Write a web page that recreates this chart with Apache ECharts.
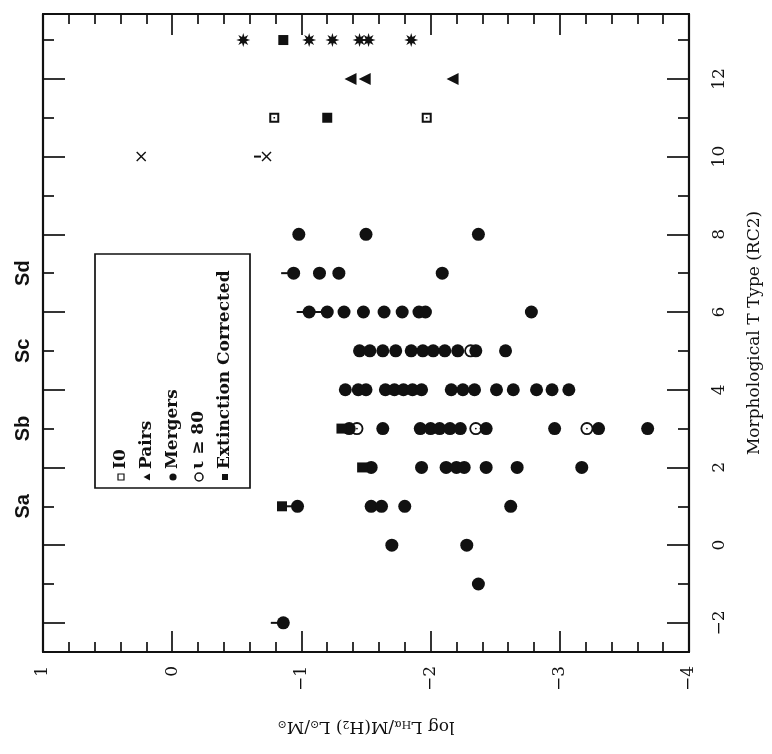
<!DOCTYPE html>
<html>
<head>
<meta charset="utf-8">
<script src="https://cdn.jsdelivr.net/npm/echarts@6/dist/echarts.min.js"></script>
<style>
  html, body { margin: 0; padding: 0; background: #fff; }
  #chart { width: 772px; height: 754px; }
</style>
</head>
<body>
<div id="chart"></div>
<script>
// H-alpha / H2 vs morphological type, drawn rotated like the scanned page.
var logTicks = [1, 0, -1, -2, -3, -4];
var typeTicks = [-2, 0, 2, 4, 6, 8, 10, 12];
var typeMinor = [-1, 1, 3, 5, 7, 9, 11, 13];
var morphTicks = [1, 3, 5, 7];
var morphNames = ["Sa", "Sb", "Sc", "Sd"];
var legendNames = ["I0", "Pairs", "Mergers", "\u03b9 \u2265 80", "Extinction Corrected"];

// filled circles, one list of log values per T row
var galaxyT = [8, 7, 6, 5, 4, 3, 2, 1, 0, -1, -2];
var galaxyLog = [
  [-0.98, -1.50, -2.37],
  [-0.94, -1.14, -1.29, -2.09],
  [-1.06, -1.20, -1.33, -1.48, -1.64, -1.78, -1.91, -1.96, -2.78],
  [-1.45, -1.53, -1.63, -1.73, -1.85, -1.94, -2.02, -2.11, -2.21, -2.35, -2.58],
  [-1.34, -1.44, -1.50, -1.65, -1.72, -1.79, -1.86, -1.93, -2.16, -2.25, -2.34, -2.51, -2.64, -2.82, -2.94, -3.07],
  [-1.37, -1.63, -1.92, -2.00, -2.07, -2.15, -2.23, -2.43, -2.96, -3.30, -3.68],
  [-1.54, -1.93, -2.12, -2.20, -2.26, -2.43, -2.67, -3.17],
  [-0.97, -1.54, -1.62, -1.80, -2.62],
  [-1.70, -2.28],
  [-2.37],
  [-0.86]
];
var inclPts = [[-1.43, 3], [-2.35, 3], [-3.21, 3], [-2.31, 5]];
var extPts = [[-0.86, 13], [-1.20, 11], [-1.31, 3], [-1.47, 2], [-0.85, 1]];
var ioPts = [[-0.79, 11], [-1.97, 11]];
var pairPts = [[-1.38, 12], [-1.49, 12], [-2.17, 12]];
var mergerPts = [[-0.55, 13], [-1.06, 13], [-1.24, 13], [-1.45, 13], [-1.52, 13], [-1.85, 13]];
var crossPts = [[0.24, 10], [-0.73, 10]];
var limitPts = [[-0.86, -2], [-0.97, 1], [-1.06, 6], [-1.20, 6], [-0.94, 7], [-0.73, 10]];

var galaxyPts = [];
galaxyT.forEach(function (t, i) {
  galaxyLog[i].forEach(function (v) { galaxyPts.push([v, t]); });
});

function starPath() {
  var p = "";
  for (var i = 0; i < 16; i++) {
    var r = i % 2 ? 4.6 : 10, a = i * Math.PI / 8;
    p += (i ? "L" : "M") + (10 + r * Math.sin(a)).toFixed(2) + " " + (10 - r * Math.cos(a)).toFixed(2) + " ";
  }
  return "path://" + p + "Z";
}
var SYM_STAR = starPath();
var SYM_OSQ = "path://M0 0H10V10H0Z M2 2V8H8V2Z M4.2 4.2H5.8V5.8H4.2Z";
var SYM_OCIRC = "path://M0 5A5 5 0 1 1 10 5A5 5 0 1 1 0 5Z M1.4 5A3.6 3.6 0 1 0 8.6 5A3.6 3.6 0 1 0 1.4 5Z M4.3 5A0.7 0.7 0 1 1 5.7 5A0.7 0.7 0 1 1 4.3 5Z";
var SYM_TRI = "path://M0 5L10 0L10 10Z";
var SYM_X = "path://M0 1L1 0L5 4L9 0L10 1L6 5L10 9L9 10L5 6L1 10L0 9L4 5Z";

var INK = "#111";
var SERIF = "'DejaVu Serif', 'Liberation Serif', serif";
function minus(v) { return v < 0 ? "\u2212" + Math.abs(v) : String(v); }

var tickStyle = { color: INK, width: 1.7 };
var lineStyle = { color: INK, width: 2.2 };

function yAxisBase(pos, show) {
  return {
    type: "value", position: pos, min: -2.75, max: 13.67,
    axisLine: { show: show, onZero: false, lineStyle: lineStyle },
    splitLine: { show: false }
  };
}

var yLeftMajor = yAxisBase("left", true);
yLeftMajor.axisTick = { inside: true, length: 22, lineStyle: tickStyle, customValues: typeTicks };
yLeftMajor.axisLabel = { show: false };

var yLeftMinor = yAxisBase("left", false);
yLeftMinor.axisTick = { inside: true, length: 11, lineStyle: tickStyle, customValues: typeMinor };
yLeftMinor.axisLabel = {
  customValues: morphTicks, rotate: 90, margin: 10,
  fontFamily: "'Liberation Sans', Arial, sans-serif", fontWeight: "bold", fontSize: 20, color: INK,
  formatter: function (v) { return morphNames[morphTicks.indexOf(v)] || ""; }
};

var yRightMajor = yAxisBase("right", true);
yRightMajor.axisTick = { inside: true, length: 22, lineStyle: tickStyle, customValues: typeTicks };
yRightMajor.axisLabel = {
  customValues: typeTicks, rotate: 90, margin: 22,
  fontFamily: SERIF, fontSize: 17, color: INK, formatter: minus
};
yRightMajor.name = "Morphological T Type (RC2)";
yRightMajor.nameLocation = "middle";
yRightMajor.nameRotate = 90;
yRightMajor.nameGap = 57;
yRightMajor.nameTextStyle = { fontFamily: SERIF, fontSize: 17, color: INK };

var yRightMinor = yAxisBase("right", false);
yRightMinor.axisTick = { inside: true, length: 11, lineStyle: tickStyle, customValues: typeMinor };
yRightMinor.axisLabel = { show: false };

function xAxisBase(pos) {
  return {
    type: "value", position: pos, min: logTicks[logTicks.length - 1], max: logTicks[0],
    interval: 1, inverse: true,
    axisLine: { show: true, onZero: false, lineStyle: lineStyle },
    axisTick: { inside: true, length: 21, lineStyle: tickStyle },
    minorTick: { show: true, splitNumber: 5, length: 10, lineStyle: tickStyle },
    splitLine: { show: false }
  };
}
var xBottom = xAxisBase("bottom");
xBottom.axisLabel = { rotate: 90, margin: 14, fontFamily: SERIF, fontSize: 17, color: INK, formatter: minus };
xBottom.name = "{a|log L}{s|H\u03b1}{a|/M(H}{s|2}{a|) L}{s|\u2299}{a|/M}{s|\u2299}";
xBottom.nameLocation = "middle";
xBottom.nameRotate = 180;
xBottom.nameGap = 66;
xBottom.nameTextStyle = {
  fontFamily: SERIF, color: INK,
  rich: {
    a: { fontFamily: SERIF, fontSize: 17, lineHeight: 22, verticalAlign: "bottom", color: INK },
    s: { fontFamily: SERIF, fontSize: 11, lineHeight: 8, verticalAlign: "bottom", color: INK }
  }
};
var xTop = xAxisBase("top");
xTop.axisLabel = { show: false };

function scatter(name, data, symbol, size, extra) {
  var s = {
    name: name, type: "scatter", data: data, symbol: symbol, symbolSize: size,
    itemStyle: { color: INK, opacity: 1 }, silent: true, z: 3
  };
  for (var k in extra || {}) s[k] = extra[k];
  return s;
}

// legend drawn by hand, since the page is rotated
var legendGraphic = [{
  type: "rect", shape: { x: 95, y: 254, width: 155, height: 234 },
  style: { fill: "none", stroke: INK, lineWidth: 1.7 }
}];
var legendSyms = [
  { type: "rect", shape: { x: -3, y: -3, width: 6, height: 6 }, style: { fill: "#fff", stroke: INK, lineWidth: 1.2 } },
  { type: "polygon", shape: { points: [[-3.5, 0], [3, -3.5], [3, 3.5]] }, style: { fill: INK } },
  { type: "circle", shape: { cx: 0, cy: 0, r: 3.6 }, style: { fill: INK } },
  { type: "circle", shape: { cx: 0, cy: 0, r: 4 }, style: { fill: "#fff", stroke: INK, lineWidth: 1.5 } },
  { type: "rect", shape: { x: -3, y: -3, width: 6, height: 6 }, style: { fill: INK } }
];
legendNames.forEach(function (n, i) {
  var cx = 121 + i * 26;
  var sym = legendSyms[i];
  sym.x = cx; sym.y = 477;
  legendGraphic.push(sym);
  legendGraphic.push({
    type: "text", x: cx, y: 469, rotation: Math.PI / 2,
    style: { text: n, fontFamily: SERIF, fontWeight: "bold", fontSize: 17, fill: INK,
      textAlign: "left", textVerticalAlign: "middle" }
  });
});

var chart = echarts.init(document.getElementById("chart"), null, { renderer: "canvas" });
chart.setOption({
  backgroundColor: "#fff",
  animation: false,
  grid: { left: 43, right: 83, top: 14, bottom: 102 },
  xAxis: [xBottom, xTop],
  yAxis: [yLeftMajor, yLeftMinor, yRightMajor, yRightMinor],
  series: [
    scatter("Galaxies", galaxyPts, "circle", 13),
    scatter("Extinction Corrected", extPts, "rect", 10),
    scatter("I0", ioPts, SYM_OSQ, 10),
    scatter("Pairs", pairPts, SYM_TRI, 12),
    scatter("Mergers", mergerPts, SYM_STAR, 14),
    scatter("Other", crossPts, SYM_X, 10),
    scatter("Limits", limitPts, "rect", [7, 2], { symbolOffset: [-9, 0] }),
    scatter("\u03b9 \u2265 80", inclPts, SYM_OCIRC, 13, { z: 4 })
  ],
  graphic: legendGraphic
});
</script>
</body>
</html>
